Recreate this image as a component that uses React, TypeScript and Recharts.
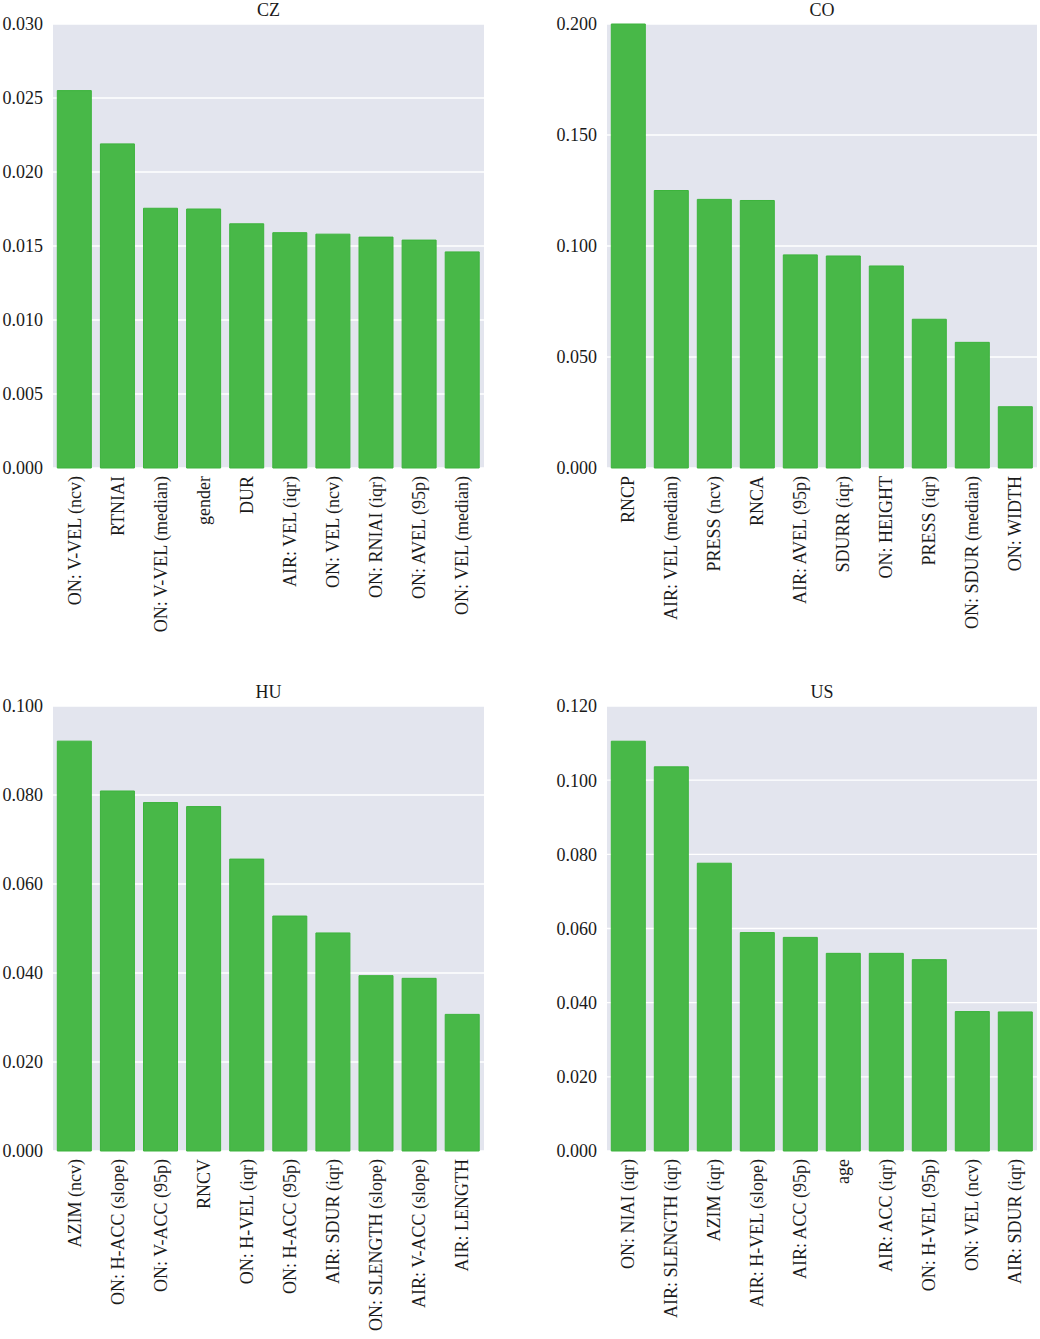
import React from 'react'
import { BarChart, Bar, XAxis, YAxis, CartesianGrid } from 'recharts'

const czLabels = ['ON: V-VEL (ncv)', 'RTNIAI', 'ON: V-VEL (median)', 'gender', 'DUR', 'AIR: VEL (iqr)', 'ON: VEL (ncv)', 'ON: RNIAI (iqr)', 'ON: AVEL (95p)', 'ON: VEL (median)']
const czValues = [0.0255, 0.0219, 0.01755, 0.0175, 0.0165, 0.0159, 0.0158, 0.0156, 0.0154, 0.0146]
const czTicks = [0, 0.005, 0.01, 0.015, 0.02, 0.025, 0.03]

const coLabels = ['RNCP', 'AIR: VEL (median)', 'PRESS (ncv)', 'RNCA', 'AIR: AVEL (95p)', 'SDURR (iqr)', 'ON: HEIGHT', 'PRESS (iqr)', 'ON: SDUR (median)', 'ON: WIDTH']
const coValues = [0.2, 0.125, 0.121, 0.1205, 0.096, 0.0955, 0.091, 0.067, 0.0566, 0.0276]
const coTicks = [0, 0.05, 0.1, 0.15, 0.2]

const huLabels = ['AZIM (ncv)', 'ON: H-ACC (slope)', 'ON: V-ACC (95p)', 'RNCV', 'ON: H-VEL (iqr)', 'ON: H-ACC (95p)', 'AIR: SDUR (iqr)', 'ON: SLENGTH (slope)', 'AIR: V-ACC (slope)', 'AIR: LENGTH']
const huValues = [0.0921, 0.0809, 0.0783, 0.0774, 0.0656, 0.0528, 0.049, 0.0394, 0.0388, 0.0307]
const huTicks = [0, 0.02, 0.04, 0.06, 0.08, 0.1]

const usLabels = ['ON: NIAI (iqr)', 'AIR: SLENGTH (iqr)', 'AZIM (iqr)', 'AIR: H-VEL (slope)', 'AIR: ACC (95p)', 'age', 'AIR: ACC (iqr)', 'ON: H-VEL (95p)', 'ON: VEL (ncv)', 'AIR: SDUR (iqr)']
const usValues = [0.1105, 0.1036, 0.0776, 0.0589, 0.0576, 0.0533, 0.0533, 0.0516, 0.0376, 0.0375]
const usTicks = [0, 0.02, 0.04, 0.06, 0.08, 0.1, 0.12]

const FONT = '"Liberation Serif", "Times New Roman", serif'

const RotTick = (props: any) => {
	const { x, y, payload } = props
	return (
		<text
			transform={`translate(${x},${y}) rotate(-90)`}
			textAnchor='end'
			dy='0.33em'
			fontFamily={FONT}
			fontSize={18}
			fill='#1a1a1a'>
			{payload.value}
		</text>
	)
}

interface PanelProps {
	title: string
	labels: string[]
	values: number[]
	ticks: number[]
	left: number
	top: number
	height: number
	yWidth: number
	right: number
	xHeight: number
}

const Panel = ({ title, labels, values, ticks, left, top, height, yWidth, right, xHeight }: PanelProps) => {
	const data = labels.map((name, i) => ({ name, value: values[i] }))
	const plotLeft = yWidth
	const plotRight = 520 - right
	return (
		<div style={{ position: 'absolute', left, top, width: 520, height }}>
			<div
				style={{
					position: 'absolute',
					top: 0,
					left: plotLeft,
					width: plotRight - plotLeft,
					textAlign: 'center',
					fontFamily: FONT,
					fontSize: 18,
					lineHeight: '20px',
					color: '#1a1a1a',
				}}>
				{title}
			</div>
			<BarChart
				width={520}
				height={height}
				data={data}
				barCategoryGap='10%'
				margin={{ top: 24, right, left: 0, bottom: 0 }}>
				<CartesianGrid vertical={false} fill='#e3e5ee' stroke='#ffffff' strokeWidth={1.3} />
				<XAxis
					dataKey='name'
					interval={0}
					axisLine={false}
					tickLine={false}
					height={xHeight}
					tick={<RotTick />}
				/>
				<YAxis
					type='number'
					domain={[0, ticks[ticks.length - 1]]}
					ticks={ticks}
					width={yWidth}
					axisLine={false}
					tickLine={false}
					tickSize={8}
					tickFormatter={(v: number) => v.toFixed(3)}
					tick={{ fontFamily: FONT, fontSize: 18, fill: '#1a1a1a' }}
				/>
				<Bar dataKey='value' fill='#48b848' stroke='#3cb33c' strokeWidth={1} isAnimationActive={false} />
			</BarChart>
		</div>
	)
}

const App = () => {
	return (
		<div style={{ position: 'absolute', left: 0, top: 0, width: 1040, height: 1339, background: '#fff' }}>
			<Panel title='CZ' labels={czLabels} values={czValues} ticks={czTicks} left={0} top={0} height={680} yWidth={53} right={36} xHeight={212} />
			<Panel title='CO' labels={coLabels} values={coValues} ticks={coTicks} left={520} top={0} height={680} yWidth={87} right={3} xHeight={212} />
			<Panel title='HU' labels={huLabels} values={huValues} ticks={huTicks} left={0} top={682} height={657} yWidth={53} right={36} xHeight={188} />
			<Panel title='US' labels={usLabels} values={usValues} ticks={usTicks} left={520} top={682} height={657} yWidth={87} right={3} xHeight={188} />
		</div>
	)
}

export default App
